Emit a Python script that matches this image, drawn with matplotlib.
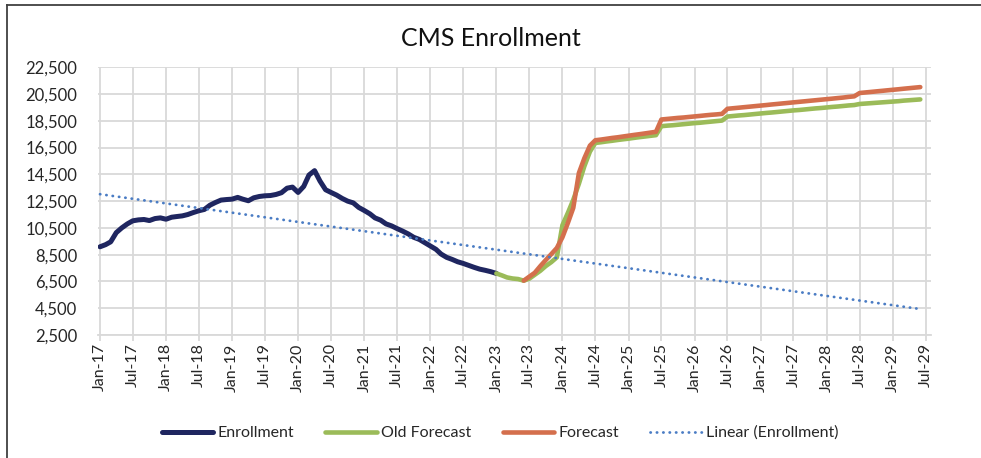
import matplotlib
matplotlib.use("Agg")
import matplotlib.pyplot as plt
import matplotlib.dates as mdates
from matplotlib.lines import Line2D
import pandas as pd

plt.rcParams['font.family'] = ['Lato', 'DejaVu Sans']

# monthly enrollment, Jan-17 .. Jan-23
enroll_start = "2017-01-01"
enrollment = [9090, 9250, 9460, 10150, 10500, 10800, 11030, 11100, 11130, 11050, 11200, 11250,
              11150, 11300, 11350, 11400, 11500, 11650, 11780, 11880, 12200, 12400, 12580, 12620,
              12650, 12780, 12650, 12530, 12750, 12850, 12900, 12920, 13000, 13130, 13470, 13550,
              13150, 13600, 14450, 14780, 14000, 13350, 13150, 12950, 12700, 12500, 12370, 12030,
              11800, 11550, 11250, 11080, 10800, 10650, 10450, 10260, 10050, 9800, 9640, 9400,
              9150, 8900, 8550, 8300, 8150, 7970, 7850, 7700, 7550, 7420, 7330, 7230, 7100]

# old forecast, Jan-23 .. Jun-29
old_start = "2023-01-01"
old_forecast = [7100, 6950, 6800, 6720, 6680, 6560, 6700, 7000, 7300, 7650, 7950, 8300,
                10700, 11650, 12600, 13800, 15100, 16200, 16850, 16900, 16960, 17010, 17070, 17120,
                17170, 17230, 17280, 17330, 17380, 17430, 18100, 18140, 18170, 18210, 18250, 18290,
                18330, 18360, 18400, 18440, 18480, 18520, 18820, 18860, 18900, 18930, 18970, 19010,
                19050, 19090, 19120, 19160, 19200, 19240, 19280, 19310, 19350, 19390, 19430, 19460,
                19500, 19540, 19570, 19610, 19650, 19680, 19760, 19790, 19820, 19850, 19880, 19910,
                19940, 19970, 20010, 20040, 20070, 20100]

# forecast, Jun-23 .. Jun-29
fc_start = "2023-06-01"
forecast = [6560, 6850, 7150, 7650, 8100, 8550, 9000,
            9800, 10900, 12000, 14600, 15700, 16650, 17050, 17100, 17160, 17220, 17270, 17330,
            17390, 17450, 17500, 17560, 17620, 17680, 18600, 18640, 18680, 18720, 18750, 18790,
            18830, 18870, 18910, 18950, 18980, 19020, 19400, 19440, 19480, 19520, 19560, 19600,
            19640, 19680, 19720, 19760, 19800, 19840, 19880, 19920, 19960, 20000, 20040, 20080,
            20120, 20160, 20200, 20240, 20290, 20330, 20580, 20620, 20660, 20700, 20740, 20780,
            20820, 20860, 20900, 20940, 20980, 21020]

# Excel's linear trendline for Enrollment, read at its two ends
trend_dates = ["2017-01-01", "2029-06-01"]
trend_values = [13020, 4440]

yticks = list(range(2500, 22501, 2000))

d_enr = pd.date_range(enroll_start, periods=len(enrollment), freq="MS")
d_old = pd.date_range(old_start, periods=len(old_forecast), freq="MS")
d_fc = pd.date_range(fc_start, periods=len(forecast), freq="MS")
d_tr = pd.to_datetime(trend_dates)

fig = plt.figure(figsize=(9.81, 4.58), dpi=100)
ax = fig.add_axes([98.3 / 981, 1 - 335 / 458, 832.4 / 981, 267.7 / 458])

ax.plot(d_enr, enrollment, color="#1F2660", lw=3.6, solid_capstyle="round", label="Enrollment", zorder=3)
ax.plot(d_old, old_forecast, color="#9BBB59", lw=3.3, solid_capstyle="round", label="Old Forecast", zorder=4)
ax.plot(d_fc, forecast, color="#D46F4D", lw=3.3, solid_capstyle="round", label="Forecast", zorder=5)
ax.plot(d_tr, trend_values, color="#4A7CC4", lw=2.0, ls=(0, (0.1, 2.2)), dash_capstyle="round",
        label="Linear (Enrollment)", zorder=6)

ax.set_ylim(2500, 22500)
ax.set_yticks(yticks)
ax.yaxis.set_major_formatter(matplotlib.ticker.FuncFormatter(lambda v, p: f"{int(v):,}"))
ax.set_xlim(pd.Timestamp("2017-01-01") - pd.Timedelta(days=9.4),
            pd.Timestamp("2029-07-01") + pd.Timedelta(days=27.6))
ax.xaxis.set_major_locator(mdates.MonthLocator(bymonth=[1, 7]))
ax.xaxis.set_major_formatter(mdates.DateFormatter("%b-%y"))

ax.grid(True, color="#D9D9D9", lw=1.3)
ax.set_axisbelow(True)
for s in ["left", "right", "top"]:
    ax.spines[s].set_visible(False)
ax.spines["bottom"].set_color("#D9D9D9")
ax.spines["bottom"].set_linewidth(1.3)
ax.tick_params(axis="y", length=0, pad=15, labelsize=12, labelcolor="#262626")
ax.tick_params(axis="x", length=4, width=1.3, color="#D9D9D9", pad=2,
               labelsize=11.5, labelcolor="#262626", labelrotation=90)

fig.text(0.5, 1 - 39 / 458, "CMS Enrollment", ha="center", va="center", fontsize=18, color="#111111")

ax.legend(loc="center", bbox_to_anchor=(0.51, 1 - 433 / 458), bbox_transform=fig.transFigure,
          ncol=4, frameon=False, fontsize=11.5, handlelength=3.2, handletextpad=0.3,
          columnspacing=1.95, labelcolor="#262626")

# chart frame (left and top edges are visible in the crop)
fig.add_artist(Line2D([7 / 981, 7 / 981], [0, 1 - 4.5 / 458], color="#404040", lw=1.3,
                      transform=fig.transFigure))
fig.add_artist(Line2D([7 / 981, 1], [1 - 4.5 / 458, 1 - 4.5 / 458], color="#404040", lw=1.3,
                      transform=fig.transFigure))

fig.savefig("out.png", dpi=100)
